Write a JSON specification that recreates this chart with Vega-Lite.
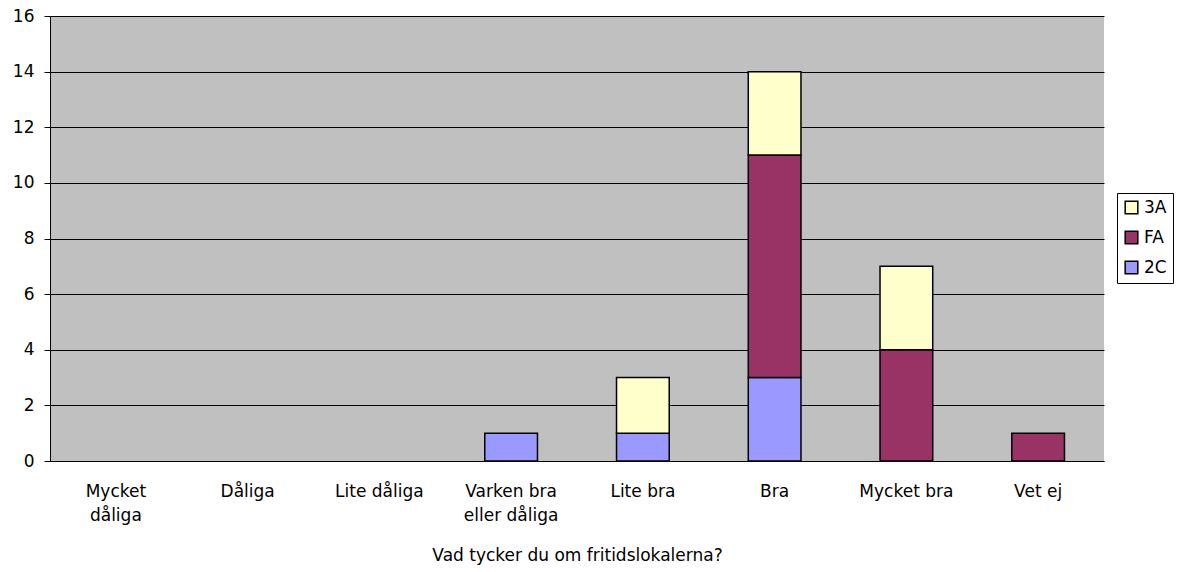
{
  "$schema": "https://vega.github.io/schema/vega-lite/v6.json",
  "autosize": "none",
  "width": 1054,
  "height": 445,
  "padding": {"left": 50, "top": 16, "right": 77, "bottom": 111},
  "background": "white",
  "config": {
    "font": "DejaVu Sans",
    "view": {"stroke": null, "fill": "#C0C0C0"}
  },
  "data": {
    "values": [
      {"cat": "Varken bra eller dåliga", "group": "2C", "ord": 1, "n": 1},
      {"cat": "Lite bra", "group": "2C", "ord": 1, "n": 1},
      {"cat": "Lite bra", "group": "3A", "ord": 3, "n": 2},
      {"cat": "Bra", "group": "2C", "ord": 1, "n": 3},
      {"cat": "Bra", "group": "FA", "ord": 2, "n": 8},
      {"cat": "Bra", "group": "3A", "ord": 3, "n": 3},
      {"cat": "Mycket bra", "group": "FA", "ord": 2, "n": 4},
      {"cat": "Mycket bra", "group": "3A", "ord": 3, "n": 3},
      {"cat": "Vet ej", "group": "FA", "ord": 2, "n": 1}
    ]
  },
  "mark": {"type": "bar", "stroke": "black", "strokeWidth": 1.5},
  "encoding": {
    "x": {
      "field": "cat",
      "type": "nominal",
      "sort": null,
      "scale": {
        "domain": ["Mycket dåliga", "Dåliga", "Lite dåliga", "Varken bra eller dåliga", "Lite bra", "Bra", "Mycket bra", "Vet ej"],
        "paddingInner": 0.6,
        "paddingOuter": 0.3
      },
      "axis": {
        "title": "Vad tycker du om fritidslokalerna?",
        "titleFont": "DejaVu Sans",
        "titleFontSize": 17,
        "titleFontWeight": "normal",
        "titleColor": "black",
        "titlePadding": 24,
        "labelAngle": 0,
        "labelFontSize": 17,
        "labelColor": "black",
        "labelPadding": 22,
        "labelLineHeight": 24,
        "labelBaseline": "top",
        "labelExpr": "datum.value == 'Mycket dåliga' ? ['Mycket', 'dåliga'] : datum.value == 'Varken bra eller dåliga' ? ['Varken bra', 'eller dåliga'] : datum.value",
        "ticks": false,
        "domainColor": "black",
        "domainWidth": 1
      }
    },
    "y": {
      "field": "n",
      "type": "quantitative",
      "aggregate": "sum",
      "stack": "zero",
      "scale": {"domain": [0, 16], "nice": false},
      "axis": {
        "title": null,
        "values": [0, 2, 4, 6, 8, 10, 12, 14, 16],
        "labelFontSize": 17,
        "labelColor": "black",
        "labelPadding": 10,
        "tickSize": 6,
        "tickColor": "black",
        "domainColor": "black",
        "grid": true,
        "gridColor": "black",
        "gridOpacity": 1,
        "gridWidth": 1
      }
    },
    "color": {
      "field": "group",
      "type": "nominal",
      "scale": {"domain": ["3A", "FA", "2C"], "range": ["#FFFFCC", "#993366", "#9999FF"]},
      "legend": {
        "title": null,
        "orient": "none",
        "legendX": 1067,
        "legendY": 177,
        "strokeColor": "black",
        "fillColor": "white",
        "padding": 6,
        "symbolType": "square",
        "symbolSize": 160,
        "symbolStrokeColor": "black",
        "symbolStrokeWidth": 1.5,
        "labelFontSize": 17,
        "labelColor": "black",
        "labelOffset": 4,
        "rowPadding": 11
      }
    },
    "order": {"field": "ord", "type": "quantitative"}
  }
}
